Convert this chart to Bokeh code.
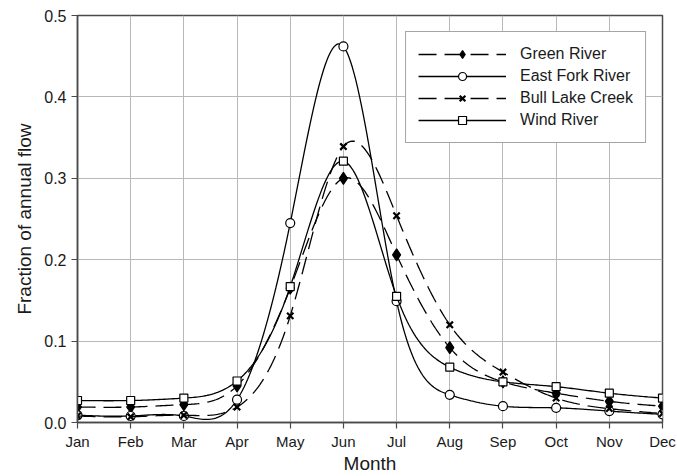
import numpy as np
from bokeh.plotting import figure
from bokeh.models import Range1d, FixedTicker, Legend, LegendItem, ColumnDataSource
from bokeh.embed import file_html
from bokeh.resources import INLINE

# ---------------- data ----------------
months = ["Jan", "Feb", "Mar", "Apr", "May", "Jun",
          "Jul", "Aug", "Sep", "Oct", "Nov", "Dec"]
month_index = [1, 2, 3, 4, 5, 6, 7, 8, 9, 10, 11, 12]

green_river = [0.019, 0.019, 0.022, 0.045, 0.165, 0.300,
               0.206, 0.092, 0.050, 0.036, 0.026, 0.020]
east_fork_river = [0.009, 0.008, 0.008, 0.028, 0.245, 0.462,
                   0.149, 0.034, 0.020, 0.018, 0.014, 0.010]
bull_lake_creek = [0.008, 0.007, 0.009, 0.019, 0.131, 0.339,
                   0.254, 0.120, 0.062, 0.030, 0.017, 0.011]
wind_river = [0.027, 0.027, 0.030, 0.051, 0.167, 0.321,
              0.155, 0.068, 0.050, 0.044, 0.036, 0.030]

y_ticks = [0.0, 0.1, 0.2, 0.3, 0.4, 0.5]

FONT = "Liberation Sans"
TEXT = "#1a1a1a"
AXIS = "#4a4a4a"


def natural_spline(xs, ys, per=30):
    """Smooth path through the data points (natural cubic spline)."""
    x = np.asarray(xs, dtype=float)
    y = np.asarray(ys, dtype=float)
    n = len(x)
    h = np.diff(x)
    A = np.zeros((n, n))
    b = np.zeros(n)
    A[0, 0] = 1.0
    A[-1, -1] = 1.0
    for i in range(1, n - 1):
        A[i, i - 1] = h[i - 1]
        A[i, i] = 2 * (h[i - 1] + h[i])
        A[i, i + 1] = h[i]
        b[i] = 6 * ((y[i + 1] - y[i]) / h[i] - (y[i] - y[i - 1]) / h[i - 1])
    M = np.linalg.solve(A, b)
    px, py = [], []
    for i in range(n - 1):
        t = np.linspace(x[i], x[i + 1], per, endpoint=(i == n - 2))
        a = x[i + 1] - t
        c = t - x[i]
        hi = h[i]
        s = (M[i] * a ** 3 / (6 * hi) + M[i + 1] * c ** 3 / (6 * hi)
             + (y[i] / hi - M[i] * hi / 6) * a + (y[i + 1] / hi - M[i + 1] * hi / 6) * c)
        px.extend(t.tolist())
        py.extend(s.tolist())
    return px, py


p = figure(width=677, height=476, output_backend="svg", toolbar_location=None,
           x_range=Range1d(1, 12), y_range=Range1d(0, 0.5),
           min_border_left=77, min_border_right=15,
           min_border_top=15, min_border_bottom=53)

p.background_fill_color = "white"
p.border_fill_color = "white"
p.outline_line_color = AXIS
p.outline_line_width = 1.5

# grid
p.xgrid.grid_line_color = "#b8b8b8"
p.ygrid.grid_line_color = "#b8b8b8"
p.xgrid.grid_line_width = 1
p.ygrid.grid_line_width = 1

# axes
p.xaxis.ticker = FixedTicker(ticks=month_index)
p.xaxis.major_label_overrides = {i: m for i, m in zip(month_index, months)}
p.yaxis.ticker = FixedTicker(ticks=y_ticks)
p.yaxis.major_label_overrides = {v: f"{v:.1f}" for v in y_ticks}
p.xaxis.axis_label = "Month"
p.yaxis.axis_label = "Fraction of annual flow"
for ax in (p.xaxis, p.yaxis):
    ax.axis_line_color = AXIS
    ax.axis_line_width = 1.5
    ax.major_tick_line_color = AXIS
    ax.major_tick_line_width = 1.2
    ax.major_tick_out = 6
    ax.major_tick_in = 0
    ax.minor_tick_line_color = None
    ax.major_label_text_font = FONT
    ax.major_label_text_color = TEXT
    ax.axis_label_text_font = FONT
    ax.axis_label_text_font_size = "19px"
    ax.axis_label_text_font_style = "normal"
    ax.axis_label_text_color = TEXT
p.xaxis.major_label_text_font_size = "15px"
p.yaxis.major_label_text_font_size = "16px"
p.xaxis.major_label_standoff = 4
p.xaxis.axis_label_standoff = 0
p.yaxis.major_label_standoff = 5
p.yaxis.axis_label_standoff = 6

series = [
    ("Green River", green_river, "18 8", "diamond"),
    ("East Fork River", east_fork_river, "solid", "circle"),
    ("Bull Lake Creek", bull_lake_creek, "18 8", "x"),
    ("Wind River", wind_river, "solid", "square"),
]

items = []
for label, vals, dash, marker in series:
    sx, sy = natural_spline(month_index, vals)
    line_r = p.line(sx, sy, line_color="black", line_width=1.3, line_dash=dash)
    src = ColumnDataSource(dict(x=month_index, y=vals))
    if marker == "diamond":
        sc = p.scatter("x", "y", source=src, marker="diamond", size=12,
                       fill_color="black", line_color="black", line_width=1.2)
    elif marker == "circle":
        sc = p.scatter("x", "y", source=src, marker="circle", size=9,
                       fill_color="white", line_color="black", line_width=1.2)
    elif marker == "x":
        sc = p.scatter("x", "y", source=src, marker="x", size=9,
                       line_color="black", line_width=2.2)
    else:
        sc = p.scatter("x", "y", source=src, marker="square", size=8,
                       fill_color="white", line_color="black", line_width=1.2)
    items.append(LegendItem(label=label, renderers=[line_r, sc]))

legend = Legend(items=items, location="top_right", margin=16,
                padding=12, spacing=2, glyph_width=88, glyph_height=20,
                label_height=20, label_standoff=14,
                label_text_font=FONT, label_text_font_size="16px",
                label_text_color=TEXT,
                border_line_color=AXIS, border_line_width=1.5,
                background_fill_color="white", background_fill_alpha=1.0)
p.add_layout(legend, "center")

open("out.html", "w").write(file_html(p, INLINE))
